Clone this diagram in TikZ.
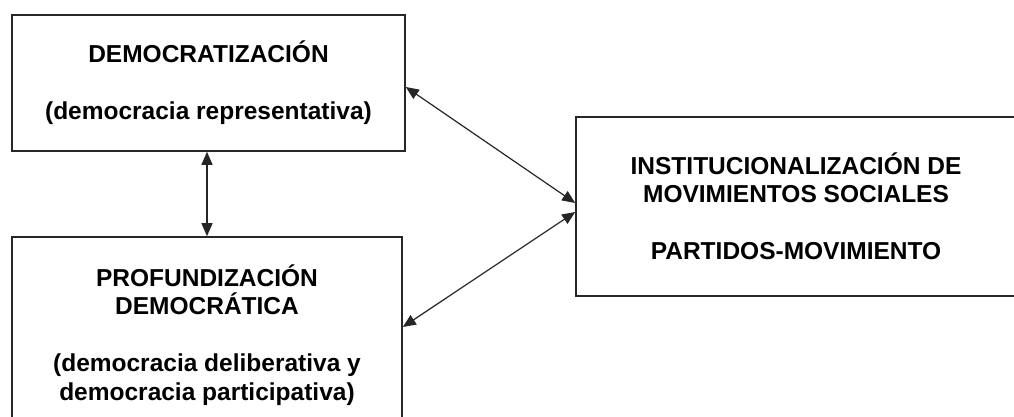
\documentclass[tikz,border=0pt]{standalone}
\usepackage{fontspec}
\setmainfont{Liberation Sans}
\usepackage{tikz}
\usetikzlibrary{arrows.meta}

\begin{document}
\begin{tikzpicture}[
    x=1pt, y=-1pt,
    font=\bfseries\fontsize{24.5}{28.5}\selectfont,
    >={Triangle[length=13pt,width=11pt]},
    box/.style={draw=black!85, line width=1.6pt, align=center, inner sep=0pt},
    link/.style={<->, line width=1.2pt, black!85},
  ]
  \clip (0,0) rectangle (1014,416);
  \fill[white] (0,0) rectangle (1014,416);

  %% ---- boxes ---------------------------------------------------------
  \node[box, minimum width=393pt, minimum height=136pt] (demo) at (208.5,83)
    {DEMOCRATIZACIÓN\\[28.5pt](democracia representativa)};
  \node[box, minimum width=390pt, minimum height=196pt] (prof) at (207,335)
    {PROFUNDIZACIÓN\\DEMOCRÁTICA\\[28.5pt](democracia deliberativa y\\democracia participativa)};
  \node[box, minimum width=440pt, minimum height=179pt] (inst) at (796,206.5)
    {INSTITUCIONALIZACIÓN DE\\MOVIMIENTOS SOCIALES\\[28.5pt]PARTIDOS-MOVIMIENTO};

  %% ---- links ---------------------------------------------------------
  \draw[link] (prof.north) -- (prof.north |- demo.south);
  \draw[link] ([yshift=-4pt]demo.east) -- ([yshift=3.5pt]inst.west);
  \draw[link] ([yshift=-5.5pt]inst.west) -- ([yshift=8pt]prof.east);
\end{tikzpicture}
\end{document}
